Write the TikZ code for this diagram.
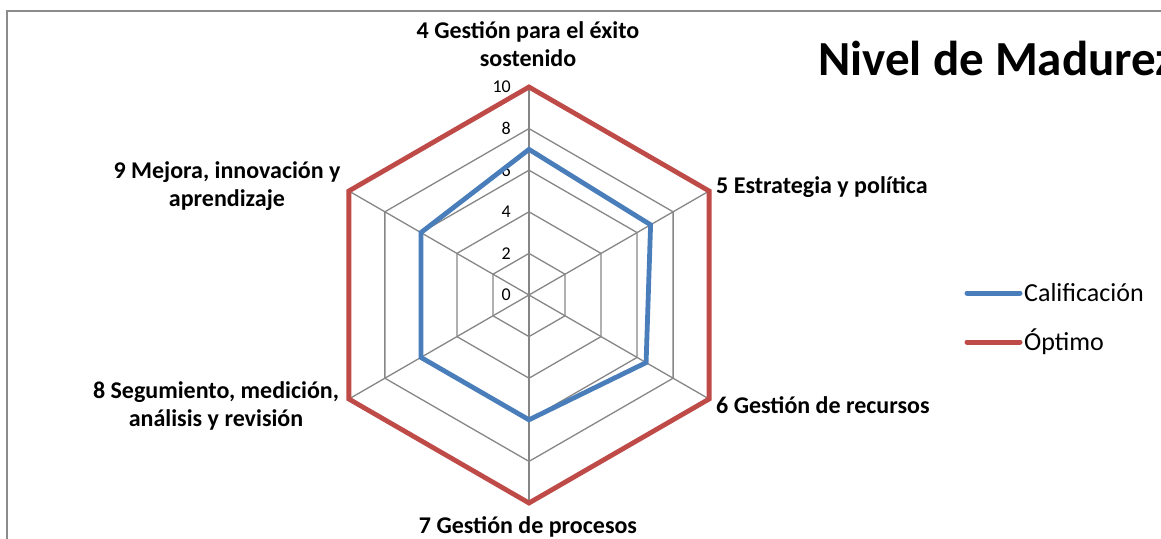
\documentclass[tikz,border=0pt]{standalone}
\usepackage{fontspec}
\setmainfont{Carlito}
\usetikzlibrary{calc}
\definecolor{gridgray}{HTML}{868686}
\definecolor{framegray}{HTML}{8C8C8C}
\definecolor{serblue}{HTML}{4A7EBB}
\definecolor{serred}{HTML}{BE4B48}
\begin{document}
\begin{tikzpicture}[x=1pt,y=1pt,
  gridline/.style={draw=gridgray, line width=1.3pt},
  frameline/.style={draw=framegray, line width=1.3pt},
  axislab/.style={font=\bfseries\fontsize{24}{28}\selectfont, align=center, inner sep=0pt},
  ticklab/.style={font=\fontsize{18}{20}\selectfont, anchor=east, inner sep=0pt},
  legtext/.style={font=\fontsize{26}{28}\selectfont, anchor=west, inner sep=0pt},
  titlelab/.style={font=\bfseries\fontsize{49}{52}\selectfont, anchor=west, inner sep=0pt},
  series/.style={line width=4.8pt, line join=miter},
  legline/.style={line width=5pt, line cap=round}]
\useasboundingbox (0,0) rectangle (1161,-538);
% frame
\coordinate (fbl) at (7,-540);
\coordinate (ftl) at (7,-11);
\coordinate (ftr) at (1163,-11);
\draw[frameline] (fbl) -- (ftl) -- (ftr);
% centre and grid
\coordinate (O) at (529,-295);
\foreach \k in {0,...,5}{
  \coordinate (v\k) at ($(O)+({90-60*\k}:208)$);
}
\foreach \lv in {2,4,6,8}{
  \draw[gridline] ($(O)+(90:\lv*20.8)$) -- ($(O)+(30:\lv*20.8)$) -- ($(O)+(-30:\lv*20.8)$)
    -- ($(O)+(-90:\lv*20.8)$) -- ($(O)+(-150:\lv*20.8)$) -- ($(O)+(150:\lv*20.8)$) -- cycle;
}
\foreach \k in {0,...,5}{
  \draw[gridline] (O) -- (v\k);
}
% tick labels
\foreach \lv in {0,2,4,6,8,10}{
  \node[ticklab] (t\lv) at ($(O)+(-18,\lv*20.8)$) {\lv};
}
% series
\coordinate (b0) at ($(O)+(90:7*20.8)$);
\coordinate (b1) at ($(O)+(30:6.75*20.8)$);
\coordinate (b2) at ($(O)+(-30:6.5*20.8)$);
\coordinate (b3) at ($(O)+(-90:6*20.8)$);
\coordinate (b4) at ($(O)+(-150:6*20.8)$);
\coordinate (b5) at ($(O)+(150:6*20.8)$);
\draw[series, serblue] (b0) -- (b1) -- (b2) -- (b3) -- (b4) -- (b5) -- cycle;
\draw[series, serred] (v0) -- (v1) -- (v2) -- (v3) -- (v4) -- (v5) -- cycle;
% axis labels
\node[axislab] (l4) at (528,-44) {4 Gestión para el éxito\\sostenido};
\node[axislab, anchor=west] (l5) at (716,-187) {5 Estrategia y política};
\node[axislab, anchor=west] (l6) at (716,-405) {6 Gestión de recursos};
\node[axislab] (l7) at (528,-527) {7 Gestión de procesos};
\node[axislab] (l8) at (216,-406) {8 Segumiento, medición,\\análisis y revisión};
\node[axislab] (l9) at (227,-186) {9 Mejora, innovación y\\aprendizaje};
% title
\node[titlelab] (title) at (818,-58) {Nivel de Madurez};
% legend
\coordinate (lb1) at (967,-293);
\coordinate (lb2) at (1020,-293);
\coordinate (lr1) at (967,-342);
\coordinate (lr2) at (1020,-342);
\draw[legline, serblue] (lb1) -- (lb2);
\draw[legline, serred] (lr1) -- (lr2);
\node[legtext] (cal) at (1024,-293) {Calificación};
\node[legtext] (opt) at (1024,-342) {Óptimo};
\end{tikzpicture}
\end{document}
